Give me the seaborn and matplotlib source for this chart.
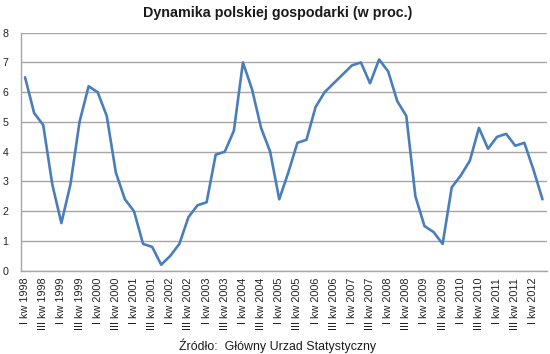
import matplotlib
matplotlib.use("Agg")
import matplotlib.pyplot as plt
import seaborn as sns
import pandas as pd

roman = ["I", "II", "III", "IV"]
years = list(range(1998, 2013))
quarters = [f"{r} kw {y}" for y in years for r in roman][:58]

values = [6.5, 5.3, 4.9, 2.9,
          1.6, 2.9, 5.0, 6.2,
          6.0, 5.2, 3.3, 2.4,
          2.0, 0.9, 0.8, 0.2,
          0.5, 0.9, 1.8, 2.2,
          2.3, 3.9, 4.0, 4.7,
          7.0, 6.1, 4.8, 4.0,
          2.4, 3.3, 4.3, 4.4,
          5.5, 6.0, 6.3, 6.6,
          6.9, 7.0, 6.3, 7.1,
          6.7, 5.7, 5.2, 2.5,
          1.5, 1.3, 0.9, 2.8,
          3.2, 3.7, 4.8, 4.1,
          4.5, 4.6, 4.2, 4.3,
          3.4, 2.4]

title = "Dynamika polskiej gospodarki (w proc.)"
source = "Źródło:  Główny Urzad Statystyczny"

df = pd.DataFrame({"kwartal": quarters, "wartosc": values})
df["pos"] = range(len(df))

sns.set_style("white")
plt.rcParams["font.family"] = ["Liberation Sans", "DejaVu Sans"]

fig = plt.figure(figsize=(5.5, 3.54), dpi=100)
ax = fig.add_axes([0.0373, 0.2353, 0.9573, 0.6723])

sns.lineplot(data=df, x="pos", y="wartosc", ax=ax, color="#4A7EBB",
             linewidth=1.9, zorder=3)

ax.set_xlim(-0.5, len(df) - 0.5)
ax.set_ylim(0, 8)
ax.set_yticks(range(0, 9))
ax.set_yticklabels([str(i) for i in range(0, 9)], fontsize=7.7, color="#222222")
ax.set_xticks(df["pos"][::2])
ax.set_xticklabels(df["kwartal"][::2], rotation=90, fontsize=7.8, color="#222222")
ax.tick_params(axis="both", length=0)
ax.tick_params(axis="y", pad=13)
ax.tick_params(axis="x", pad=5)
for lab in ax.get_yticklabels():
    lab.set_horizontalalignment("left")

ax.grid(axis="y", color="#A6A6A6", linewidth=1.0)
ax.set_axisbelow(True)
for s in ["top", "right"]:
    ax.spines[s].set_visible(False)
ax.spines["left"].set_color("#A6A6A6")
ax.spines["bottom"].set_color("#A6A6A6")
ax.spines["left"].set_linewidth(1.0)
ax.spines["bottom"].set_linewidth(1.0)
ax.set_xlabel("")
ax.set_ylabel("")

fig.text(0.504, 0.962, title, ha="center", va="center", fontsize=10.3,
         fontweight="bold", color="#1a1a1a")
fig.text(0.505, 0.022, source, ha="center", va="center", fontsize=8.9,
         color="#1a1a1a")

fig.savefig("out.png", dpi=100)
